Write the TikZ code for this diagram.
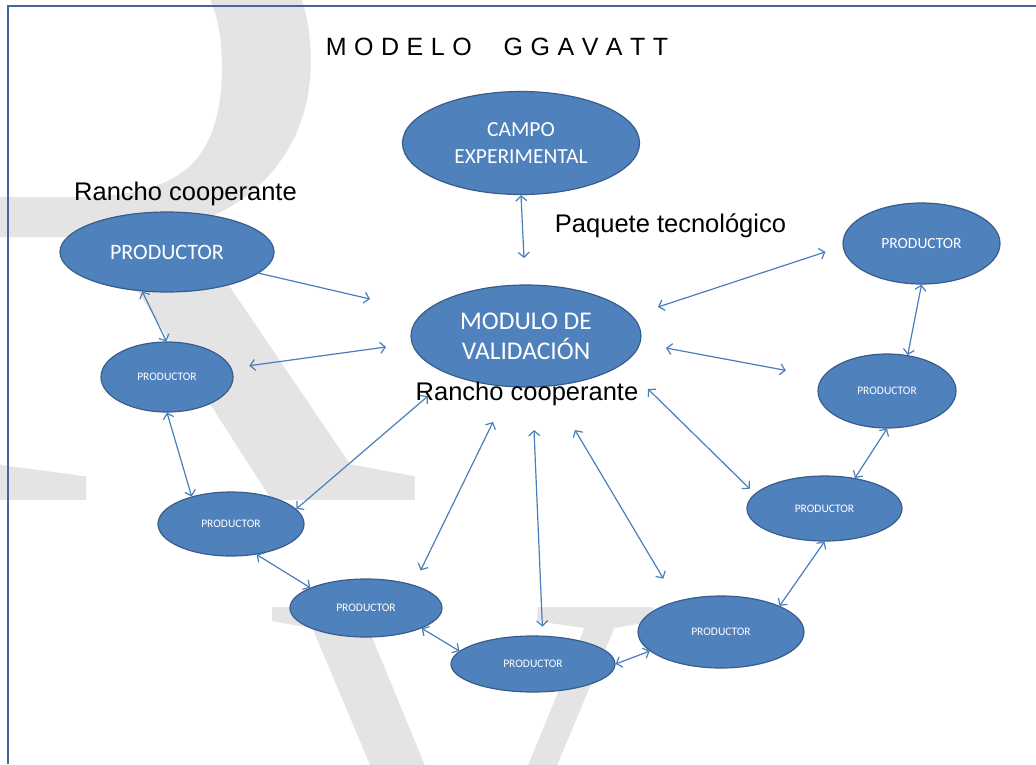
\documentclass[tikz,border=0pt]{standalone}
\usepackage{fontspec}
\setmainfont{Liberation Sans}
\newfontfamily\calibri{Carlito}
\newfontfamily\wmfont{Liberation Serif}
\usetikzlibrary{shapes.geometric,arrows.meta}
\definecolor{nodeblue}{HTML}{4F81BD}
\definecolor{edgeblue}{HTML}{385D8A}
\definecolor{linkblue}{HTML}{4A7EBB}
\definecolor{frameblue}{HTML}{41679B}
\definecolor{wmgray}{HTML}{E4E4E4}
\newcommand{\sz}[1]{\fontsize{#1}{#1}\selectfont}
\newcommand{\spc}{\hspace{7.5pt}}
\tikzset{
  prod/.style={ellipse, draw=edgeblue, line width=1.2pt, fill=nodeblue, text=white, inner sep=0pt, align=center},
  link/.style={draw=linkblue, line width=1.2pt, >={Straight Barb[length=5pt,width=11pt]}},
  note/.style={anchor=base, inner sep=0pt, font=\sz{25.5}},
  wm/.style={anchor=base west, inner sep=0pt, text=wmgray}
}

\begin{document}
\begin{tikzpicture}[x=1pt,y=-1pt]
	\useasboundingbox (0,0) rectangle (1036,764);
	\begin{scope}
		\clip (0,0) rectangle (1036,764);
		\node[wm, font=\wmfont\sz{915}] (wmR) at (-194,500) {R};
		\node[wm, font=\wmfont\sz{545}] (wmV) at (266,964) {V};
	\end{scope}
	\draw[frameblue, line width=2.2pt] (8,764) -- (8,6) -- (1036,6);

	\node[font=\sz{25}] (title) at (497,47) {M\spc O\spc D\spc E\spc L\spc O\hspace{32pt}G\spc G\spc A\spc V\spc A\spc T\spc T};

	\node[prod, minimum width=237pt, minimum height=103pt, font=\calibri\sz{21.5}] (campo) at (521,143) {CAMPO\\[5.5pt]EXPERIMENTAL};
	\node[prod, minimum width=230pt, minimum height=102pt, font=\calibri\sz{25.5}] (modulo) at (526,336) {MODULO DE\\[4.5pt]VALIDACIÓN};

	\node[prod, minimum width=214pt, minimum height=80pt, font=\calibri\sz{22}] (p1) at (167,252) {PRODUCTOR};
	\node[prod, minimum width=132pt, minimum height=70pt, font=\calibri\sz{11.5}] (p2) at (167,377) {PRODUCTOR};
	\node[prod, minimum width=146pt, minimum height=64pt, font=\calibri\sz{11.5}] (p3) at (231,524) {PRODUCTOR};
	\node[prod, minimum width=152pt, minimum height=58pt, font=\calibri\sz{11.5}] (p4) at (366,608) {PRODUCTOR};
	\node[prod, minimum width=164pt, minimum height=56pt, font=\calibri\sz{11.5}] (p5) at (533,664) {PRODUCTOR};
	\node[prod, minimum width=166pt, minimum height=72pt, font=\calibri\sz{11.5}] (p6) at (721,632) {PRODUCTOR};
	\node[prod, minimum width=155pt, minimum height=65pt, font=\calibri\sz{11.5}] (p7) at (824.5,508.5) {PRODUCTOR};
	\node[prod, minimum width=138pt, minimum height=74pt, font=\calibri\sz{11.5}] (p8) at (887,391) {PRODUCTOR};
	\node[prod, minimum width=157pt, minimum height=81pt, font=\calibri\sz{15.5}] (p9) at (921.5,243.5) {PRODUCTOR};

	\node[note] (rancho1) at (185.5,200) {Rancho cooperante};
	\node[note] (paquete) at (670.5,232) {Paquete tecnológico};
	\node[note] (rancho2) at (527,400) {Rancho cooperante};

	% loose ends round the validation module
	\coordinate (m1) at (524,258);
	\coordinate (m2) at (370,299);
	\coordinate (m3) at (386,347);
	\coordinate (m4) at (428,396);
	\coordinate (m5) at (493,422);
	\coordinate (m6) at (534,430);
	\coordinate (m7) at (575,430);
	\coordinate (m8) at (648,389);
	\coordinate (m9) at (666,348);
	\coordinate (m10) at (658,307);

	\draw[link,<->] (campo.south) -- (m1);
	\draw[link,->] (p1.-13) -- (m2);
	\draw[link,<->, shorten <=18pt] (p2) -- (m3);
	\draw[link,<->] (p3.13) -- (m4);
	\draw[link,<->, shorten <=16pt] (p4.26) -- (m5);
	\draw[link,<->, shorten <=9pt] (p5.71) -- (m6);
	\draw[link,<->, shorten <=26pt] (p6.145) -- (m7);
	\draw[link,<->, shorten <=7pt] (p7.168) -- (m8);
	\draw[link,<->, shorten <=37pt] (p8.168) -- (m9);
	\draw[link,<->, shorten <=18pt] (p9.182) -- (m10);

	\draw[link,<->] (p1.238) -- (p2.91);
	\draw[link,<->] (p2.south) -- (p3.145);
	\draw[link,<->] (p3.-50) -- (p4.160);
	\draw[link,<->] (p4.-20) -- (p5.170);
	\draw[link,<->] (p5.east) -- (p6.195);
	\draw[link,<->] (p6.24) -- (p7.south);
	\draw[link,<->] (p7.45) -- (p8.south);
	\draw[link,<->] (p9.south) -- (p8.60);
\end{tikzpicture}
\end{document}
